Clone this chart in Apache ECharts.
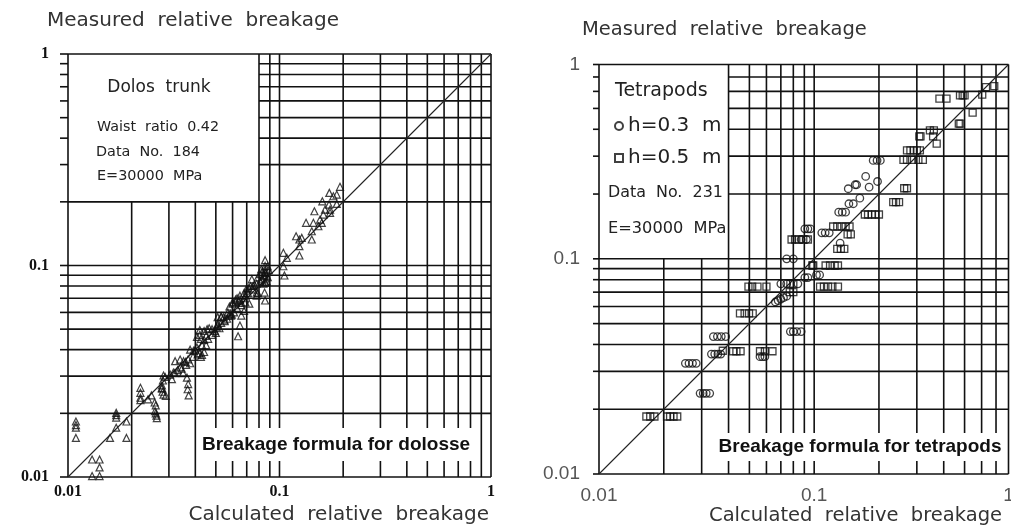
<!DOCTYPE html>
<html>
<head>
<meta charset="utf-8">
<title>Breakage formula - dolosse / tetrapods</title>
<script src="https://cdn.jsdelivr.net/npm/echarts@6.0.0/dist/echarts.min.js"></script>
<style>
  html, body { margin: 0; padding: 0; background: #fff; }
  #chart { width: 1011px; height: 529px; }
</style>
</head>
<body>
<div id="chart"></div>
<script>
// ============================================================
// DATA
// [calculated, measured] relative breakage
// ============================================================

// Left plot: dolos trunk (triangles)
const dolosTrunk = [
  [0.0109,0.0183],[0.0109,0.0176],[0.0109,0.0171],[0.0109,0.0153],
  [0.0130,0.0121],[0.0141,0.0121],[0.0141,0.0111],[0.0130,0.0101],[0.0141,0.0101],
  [0.0169,0.0201],[0.0169,0.0196],[0.0169,0.0191],[0.0169,0.0171],
  [0.0158,0.0153],[0.0189,0.0183],[0.0189,0.0153],
  [0.0220,0.0264],[0.0220,0.0250],[0.0220,0.0237],[0.0220,0.0231],
  [0.0239,0.0233],[0.0248,0.0243],
  [0.0257,0.0225],[0.0260,0.0218],[0.0258,0.0205],[0.0260,0.0200],[0.0262,0.0195],[0.0263,0.0190],
  [0.0278,0.0271],[0.0278,0.0262],[0.0280,0.0253],[0.0283,0.0245],[0.0290,0.0242],
  [0.0283,0.0302],[0.0288,0.0297],[0.0281,0.0286],[0.0278,0.0264],
  [0.0304,0.0305],[0.0315,0.0312],[0.0321,0.0353],[0.0339,0.0359],[0.0352,0.0353],
  [0.0345,0.0325],[0.0350,0.0310],[0.0365,0.0295],[0.0370,0.0275],[0.0368,0.0260],
  [0.0372,0.0243],[0.0362,0.0339],[0.0378,0.0345],[0.0330,0.0320],
  [0.0378,0.0400],[0.0392,0.0395],[0.0407,0.0410],
  [0.0410,0.0380],[0.0420,0.0385],[0.0430,0.0378],[0.0440,0.0390],[0.0425,0.0370],
  [0.0407,0.0460],[0.0420,0.0470],[0.0425,0.0450],[0.0440,0.0445],[0.0450,0.0465],
  [0.0420,0.0495],[0.0440,0.0490],[0.0455,0.0500],[0.0465,0.0505],
  [0.0480,0.0500],[0.0495,0.0490],[0.0505,0.0510],[0.0520,0.0505],[0.0510,0.0530],
  [0.0530,0.0535],[0.0550,0.0545],[0.0565,0.0560],
  [0.0510,0.0570],[0.0530,0.0575],[0.0545,0.0570],[0.0575,0.0580],[0.0585,0.0590],[0.0595,0.0585],
  [0.0637,0.0463],
  [0.0600,0.0660],[0.0620,0.0670],[0.0640,0.0680],[0.0650,0.0690],[0.0660,0.0665],
  [0.0690,0.0670],[0.0630,0.0700],[0.0680,0.0700],
  [0.0650,0.0720],[0.0680,0.0740],[0.0700,0.0760],[0.0715,0.0780],[0.0730,0.0800],[0.0760,0.0810],
  [0.0750,0.0800],[0.0780,0.0820],[0.0810,0.0840],[0.0840,0.0820],[0.0860,0.0830],
  [0.0850,0.0745],[0.0855,0.0683],[0.0790,0.0740],[0.0780,0.0745],
  [0.0855,0.1060],[0.0855,0.0995],[0.0855,0.0958],[0.0855,0.0926],[0.0855,0.0890],[0.0855,0.0831],
  [0.0810,0.0910],[0.0820,0.0960],[0.0830,0.0930],[0.0840,0.0900],
  [0.0880,0.0990],[0.0890,0.0950],[0.0860,0.0920],[0.0880,0.0880],[0.0830,0.0860],[0.0870,0.0840],
  [0.0750,0.0770],[0.0780,0.0720],[0.0710,0.0740],[0.0690,0.0720],[0.0660,0.0650],[0.0630,0.0630],
  [0.0610,0.0600],[0.0590,0.0580],[0.0570,0.0600],[0.0550,0.0550],[0.0530,0.0570],[0.0510,0.0520],
  [0.0500,0.0480],[0.0480,0.0470],[0.0460,0.0450],[0.0450,0.0420],[0.0430,0.0420],[0.0400,0.0400],
  [0.0390,0.0370],[0.0370,0.0360],[0.0360,0.0350],[0.0340,0.0330],[0.0320,0.0310],[0.0310,0.0290],
  [0.0600,0.0670],[0.0580,0.0640],[0.0620,0.0690],[0.0700,0.0780],[0.0740,0.0860],[0.0680,0.0610],
  [0.0660,0.0580],[0.0650,0.0520],[0.0720,0.0660],[0.0790,0.0880],
  [0.1043,0.0992],[0.1055,0.0897],[0.1043,0.1148],[0.1083,0.1087],[0.1242,0.1115],
  [0.1242,0.1234],[0.1198,0.1375],[0.1274,0.1351],[0.1242,0.1327],[0.1421,0.1327],
  [0.1421,0.1452],[0.1527,0.1533],[0.1335,0.1591],[0.1446,0.1591],[0.1584,0.1591],
  [0.1555,0.1649],[0.1612,0.1741],[0.1734,0.1774],[0.1462,0.1805],[0.1642,0.1838],
  [0.1734,0.1838],[0.1715,0.1941],[0.1865,0.1956],[0.1594,0.2012],[0.1797,0.2125],
  [0.1865,0.2165],[0.1720,0.2205],[0.1932,0.2355]
];

// Right plot: tetrapods, h = 0.3 m (circles)
const tetraH03 = [
  [0.0295,0.0237],[0.0305,0.0237],[0.0315,0.0237],[0.0327,0.0237],
  [0.0252,0.0327],[0.0262,0.0327],[0.0272,0.0327],[0.0283,0.0327],
  [0.0333,0.0361],[0.0345,0.0361],[0.0357,0.0361],[0.0368,0.0361],
  [0.0340,0.0435],[0.0355,0.0435],[0.0370,0.0435],[0.0388,0.0435],
  [0.0560,0.0351],[0.0575,0.0351],[0.0590,0.0351],
  [0.0775,0.0459],[0.0800,0.0459],[0.0830,0.0459],[0.0870,0.0459],
  [0.0660,0.0630],[0.0680,0.0640],[0.0700,0.0650],[0.0720,0.0660],[0.0745,0.0670],
  [0.0700,0.0765],[0.0745,0.0765],[0.0840,0.0765],
  [0.0905,0.0818],[0.0935,0.0818],
  [0.1025,0.0842],[0.1060,0.0842],
  [0.0745,0.1000],[0.0800,0.1000],
  [0.0870,0.1230],[0.0920,0.1230],
  [0.0905,0.1379],[0.0935,0.1379],[0.0960,0.1379],
  [0.1085,0.1321],[0.1125,0.1321],[0.1175,0.1321],
  [0.1320,0.1182],
  [0.1300,0.1647],[0.1350,0.1647],[0.1400,0.1647],
  [0.1450,0.1803],[0.1520,0.1803],
  [0.1630,0.1914],[0.1440,0.2117],[0.1550,0.2209],[0.1575,0.2209],
  [0.1800,0.2153],[0.1735,0.2415],[0.1970,0.2288],
  [0.1880,0.2866],[0.1960,0.2866],[0.2030,0.2866]
];

// Right plot: tetrapods, h = 0.5 m (squares)
const tetraH05 = [
  [0.0166,0.0185],[0.0173,0.0185],[0.0181,0.0185],
  [0.0207,0.0185],[0.0214,0.0185],[0.0222,0.0185],[0.0231,0.0185],
  [0.0376,0.0374],
  [0.0420,0.0372],[0.0435,0.0372],[0.0455,0.0372],
  [0.0452,0.0558],[0.0475,0.0558],[0.0498,0.0558],[0.0518,0.0558],
  [0.0495,0.0743],[0.0515,0.0743],[0.0545,0.0743],[0.0600,0.0743],
  [0.0560,0.0372],[0.0590,0.0372],[0.0640,0.0372],
  [0.0775,0.0765],[0.0800,0.0765],
  [0.0770,0.0700],[0.0800,0.0700],
  [0.1065,0.0743],[0.1110,0.0743],[0.1160,0.0743],[0.1215,0.0743],[0.1290,0.0743],
  [0.1130,0.0931],[0.1185,0.0931],[0.1245,0.0931],[0.1290,0.0931],
  [0.0980,0.0931],[0.0990,0.0931],
  [0.0785,0.1230],[0.0815,0.1230],[0.0850,0.1230],[0.0890,0.1230],[0.0935,0.1230],
  [0.1225,0.1413],[0.1280,0.1413],[0.1340,0.1413],[0.1400,0.1413],[0.1460,0.1413],
  [0.1430,0.1300],[0.1480,0.1300],
  [0.1280,0.1113],[0.1330,0.1113],[0.1380,0.1113],
  [0.1720,0.1607],[0.1780,0.1607],[0.1850,0.1607],[0.1920,0.1607],[0.2000,0.1607],
  [0.2330,0.1833],[0.2400,0.1833],[0.2480,0.1833],
  [0.2620,0.2128],[0.2700,0.2128],
  [0.2600,0.2886],[0.2700,0.2886],[0.2850,0.2886],[0.3050,0.2886],[0.3200,0.2886],
  [0.2700,0.3189],[0.2800,0.3189],[0.2900,0.3189],[0.3000,0.3189],[0.3100,0.3189],
  [0.3080,0.3707],[0.3120,0.3707],[0.3570,0.3707],
  [0.3450,0.3951],[0.3600,0.3951],
  [0.3710,0.3427],
  [0.4700,0.4246],[0.4780,0.4246],
  [0.5450,0.4775],
  [0.3820,0.5549],[0.4120,0.5549],
  [0.4760,0.5750],[0.4900,0.5750],[0.5000,0.5750],
  [0.6040,0.5790],
  [0.6290,0.6285],[0.6870,0.6353]
];

// Log grid lines (decade subdivisions)
const leftGridValues = [0.01, 0.02, 0.03, 0.04, 0.05, 0.06, 0.07, 0.08, 0.09,
                        0.1, 0.2, 0.3, 0.4, 0.5, 0.6, 0.7, 0.8, 0.9, 1];
const rightGridValues = [0.01, 0.02, 0.03, 0.04, 0.05, 0.06, 0.07, 0.08, 0.09,
                         0.1, 0.2, 0.3, 0.4, 0.5, 0.6, 0.7, 0.8];

// Tick labels (the right-hand plot is cut at 0.8 but still labelled "1")
const leftTickValues = [0.01, 0.1, 1];
const leftTickLabels = ['0.01', '0.1', '1'];
const rightTickValues = [0.01, 0.1, 0.8];
const rightTickLabels = ['0.01', '0.1', '1'];

// Diagonals (perfect agreement)
const leftDiagonal = [[0.01, 0.01], [1, 1]];
const rightDiagonal = [[0.01, 0.01], [0.8, 0.8]];


// ============================================================
// HELPERS
// ============================================================

const LINE_COLOR = '#111';
const TITLE_FONT = 'DejaVu Sans';

function tickFormatter(values, labels) {
  return function(v) {
    for (let i = 0; i < values.length; i++) {
      if (Math.abs(Math.log10(values[i]) - Math.log10(v)) < 0.01) return labels[i];
    }
    return '';
  };
}

// Grid lines are drawn by hand so the white legend box can cut them off.
// box = corner (x, y) of the blank area in the upper-left of each plot
function gridSeries(idx, values, box, stub) {
  const xMin = values[0], xMax = values[values.length - 1];
  const yMin = values[0], yMax = values[values.length - 1];
  const style = { stroke: LINE_COLOR, lineWidth: 1.6 };

  const horizontal = values.map(function(h) {
    return [(h > box[1] && h < yMax) ? box[0] : xMin, h];
  });
  const vertical = values.map(function(v) {
    return [v, (v < box[0] && v > xMin) ? box[1] : yMax];
  });

  return [
    {
      type: 'custom', xAxisIndex: idx, yAxisIndex: idx, silent: true, z: 1,
      data: horizontal,
      renderItem: function(params, api) {
        const y = api.value(1);
        const a = api.coord([api.value(0), y]);
        const b = api.coord([xMax, y]);
        const axisX = api.coord([xMin, y])[0];
        return {
          type: 'group',
          children: [
            { type: 'line', shape: { x1: a[0], y1: a[1], x2: b[0], y2: b[1] }, style: style },
            { type: 'line', shape: { x1: axisX - stub, y1: a[1], x2: axisX, y2: a[1] }, style: style }
          ]
        };
      }
    },
    {
      type: 'custom', xAxisIndex: idx, yAxisIndex: idx, silent: true, z: 1,
      data: vertical,
      renderItem: function(params, api) {
        const x = api.value(0);
        const a = api.coord([x, yMin]);
        const b = api.coord([x, api.value(1)]);
        return { type: 'line', shape: { x1: a[0], y1: a[1], x2: b[0], y2: b[1] }, style: style };
      }
    }
  ];
}

function logAxis(idx, min, max, labelStyle) {
  return Object.assign({
    type: 'log', logBase: 10, gridIndex: idx, min: min, max: max,
    axisLine: { show: false },
    axisTick: { show: false },
    splitLine: { show: false },
    minorSplitLine: { show: false }
  }, labelStyle);
}

function noteText(x, y, text, size, align) {
  return {
    type: 'text', x: x, y: y, z: 100,
    style: {
      text: text, fill: '#222',
      fontFamily: TITLE_FONT, fontSize: size,
      align: align || 'left', textAlign: align || 'left',
      verticalAlign: 'middle', textVerticalAlign: 'middle'
    }
  };
}

function formulaBox(x, y, w, h, text) {
  return [
    { type: 'rect', z: 99, shape: { x: x, y: y, width: w, height: h }, style: { fill: '#fff' } },
    {
      type: 'text', z: 100, x: x + w / 2, y: y + h / 2,
      style: {
        text: text, fill: '#111',
        fontFamily: 'Liberation Sans', fontWeight: 'bold', fontSize: 19,
        align: 'center', textAlign: 'center',
        verticalAlign: 'middle', textVerticalAlign: 'middle'
      }
    }
  ];
}


// ============================================================
// CHART
// ============================================================

const chart = echarts.init(document.getElementById('chart'), null, { renderer: 'canvas' });

const leftLabel = {
  fontFamily: 'Liberation Serif', fontWeight: 'bold', fontSize: 16, color: '#111',
  formatter: tickFormatter(leftTickValues, leftTickLabels)
};
const rightLabel = {
  fontFamily: 'Liberation Sans', fontSize: 19, color: '#555',
  formatter: tickFormatter(rightTickValues, rightTickLabels)
};

const titleStyle = function(size) {
  return { fontFamily: TITLE_FONT, fontSize: size, fontWeight: 'normal', color: '#333' };
};

chart.setOption({
  backgroundColor: '#fff',
  animation: false,
  title: [
    { text: 'Measured  relative  breakage', left: 47, top: 11, padding: 0, textStyle: titleStyle(20) },
    { text: 'Calculated  relative  breakage', right: 522, top: 505, padding: 0, textStyle: titleStyle(20) },
    { text: 'Measured  relative  breakage', left: 582, top: 20, padding: 0, textStyle: titleStyle(19.5) },
    { text: 'Calculated  relative  breakage', right: 9, top: 506, padding: 0, textStyle: titleStyle(19.5) }
  ],
  grid: [
    { left: 68, top: 54, width: 423, height: 423, outerBoundsMode: 'none', containLabel: false },
    { left: 599, top: 64.5, width: 409.5, height: 409.5, outerBoundsMode: 'none', containLabel: false }
  ],
  xAxis: [
    logAxis(0, 0.01, 1, { axisLabel: Object.assign({ margin: 7 }, leftLabel) }),
    logAxis(1, 0.01, 0.8, { axisLabel: Object.assign({ margin: 12 }, rightLabel) })
  ],
  yAxis: [
    logAxis(0, 0.01, 1, { axisLabel: Object.assign({ margin: 19 }, leftLabel) }),
    logAxis(1, 0.01, 0.8, { axisLabel: Object.assign({ margin: 19 }, rightLabel) })
  ],
  legend: {
    data: ['h=0.3  m', 'h=0.5  m'],
    orient: 'vertical',
    left: 609, top: 111,
    itemWidth: 8, itemHeight: 8, itemGap: 12,
    selectedMode: false,
    textStyle: { fontFamily: TITLE_FONT, fontSize: 20, color: '#222' }
  },
  graphic: [
    noteText(159, 88, 'Dolos  trunk', 17, 'center'),
    noteText(97, 127, 'Waist  ratio  0.42', 14.3),
    noteText(96, 152, 'Data  No.  184', 14.4),
    noteText(97, 176, 'E=30000  MPa', 14.4),
    noteText(615, 91, 'Tetrapods', 19),
    noteText(608, 193, 'Data  No.  231', 15.9),
    noteText(608, 229, 'E=30000  MPa', 16.2)
  ].concat(
    formulaBox(198, 428, 276, 33, 'Breakage formula for dolosse'),
    formulaBox(713, 433, 294, 28, 'Breakage formula for tetrapods')
  ),
  series: [].concat(
    gridSeries(0, leftGridValues, [0.08, 0.2], 8),
    gridSeries(1, rightGridValues, [0.04, 0.1], 6),
    [
      {
        type: 'line', xAxisIndex: 0, yAxisIndex: 0, data: leftDiagonal,
        showSymbol: false, silent: true, z: 2,
        lineStyle: { color: '#222', width: 1.1 }
      },
      {
        type: 'line', xAxisIndex: 1, yAxisIndex: 1, data: rightDiagonal,
        showSymbol: false, silent: true, z: 2,
        lineStyle: { color: '#222', width: 1.1 }
      },
      {
        name: 'Dolos trunk', type: 'scatter', xAxisIndex: 0, yAxisIndex: 0,
        data: dolosTrunk, symbol: 'triangle', symbolSize: 7, z: 3,
        itemStyle: { color: 'rgba(0,0,0,0)', borderColor: '#111', borderWidth: 1.2 }
      },
      {
        name: 'h=0.3  m', type: 'scatter', xAxisIndex: 1, yAxisIndex: 1,
        data: tetraH03, symbol: 'circle', symbolSize: 7.5, z: 3,
        itemStyle: { color: 'rgba(0,0,0,0)', borderColor: '#111', borderWidth: 1.3 }
      },
      {
        name: 'h=0.5  m', type: 'scatter', xAxisIndex: 1, yAxisIndex: 1,
        data: tetraH05, symbol: 'rect', symbolSize: 7, z: 3,
        itemStyle: { color: 'rgba(0,0,0,0)', borderColor: '#111', borderWidth: 1.3 }
      }
    ]
  )
});
</script>
</body>
</html>
